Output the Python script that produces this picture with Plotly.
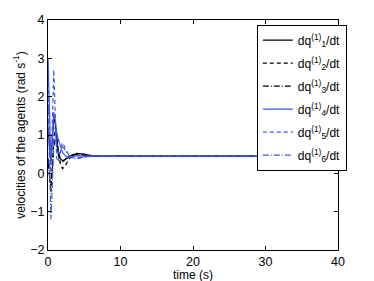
import plotly.graph_objects as go

time_s = [0, 0.2, 0.4, 0.6, 0.8, 1.0, 1.2, 1.4, 1.7, 2.0, 2.4, 2.8, 3.3, 4, 5, 6, 7, 8, 10, 12, 15, 20, 30, 40]

dq1 = [1.2, 0.6, 0.3, 0.9, 1.45, 1.3, 0.9, 0.6, 0.38, 0.33, 0.36, 0.42, 0.48, 0.52, 0.5, 0.46, 0.44, 0.45, 0.46, 0.45, 0.45, 0.45, 0.45, 0.45]
dq2 = [0.4, -0.2, -0.5, 0.2, 0.9, 1.2, 1.0, 0.6, 0.25, 0.12, 0.2, 0.35, 0.45, 0.5, 0.47, 0.45, 0.44, 0.45, 0.45, 0.45, 0.45, 0.45, 0.45, 0.45]
dq3 = [0.3, 0.0, -0.35, 0.1, 0.7, 0.9, 0.75, 0.5, 0.3, 0.3, 0.38, 0.44, 0.47, 0.48, 0.46, 0.45, 0.45, 0.45, 0.45, 0.45, 0.45, 0.45, 0.45, 0.45]
dq4 = [3.0, 1.2, 0.3, 0.9, 1.6, 1.4, 1.05, 0.9, 0.7, 0.55, 0.45, 0.42, 0.44, 0.46, 0.45, 0.45, 0.45, 0.45, 0.45, 0.45, 0.45, 0.45, 0.45, 0.45]
dq5 = [2.9, 0.5, 0.0, 1.8, 2.7, 1.5, 0.4, 0.3, 0.6, 0.8, 0.65, 0.5, 0.42, 0.4, 0.43, 0.45, 0.46, 0.45, 0.45, 0.45, 0.45, 0.45, 0.45, 0.45]
dq6 = [2.0, 0.0, -1.2, -0.3, 1.0, 1.1, 0.8, 0.5, 0.55, 0.7, 0.6, 0.48, 0.4, 0.38, 0.42, 0.45, 0.46, 0.45, 0.45, 0.45, 0.45, 0.45, 0.45, 0.45]

labels = ["dq<sup>(1)</sup><sub>%d</sub>/dt" % i for i in range(1, 7)]
series = [dq1, dq2, dq3, dq4, dq5, dq6]

BLUE = "#3a55f0"
styles = [("black", "solid"), ("black", "4px,3px"), ("black", "6px,2px,1px,2px"),
          (BLUE, "solid"), (BLUE, "4px,3px"), (BLUE, "6px,2px,1px,2px")]

fig = go.Figure()
for i, (lab, ys, (c, d)) in enumerate(zip(labels, series, styles)):
    fig.add_trace(go.Scatter(x=time_s, y=ys, mode="lines", name=lab, legendgroup="g%d" % i,
                             line=dict(color=c, dash=d, width=1.2)))

axis_common = dict(showline=True, linecolor="black", linewidth=1, mirror="ticks",
                   ticks="inside", ticklen=4, tickcolor="black", showgrid=False,
                   zeroline=False, tickfont=dict(size=12.5, color="black"), automargin=False)

fig.update_layout(
    width=374, height=281,
    margin=dict(l=48, r=36, t=20, b=31),
    paper_bgcolor="white", plot_bgcolor="white",
    font=dict(family="Liberation Sans, Arial, sans-serif", size=12, color="black"),
    xaxis=dict(range=[0, 40], tickvals=[0, 10, 20, 30, 40], **axis_common),
    yaxis=dict(range=[-2, 4], tickvals=[-2, -1, 0, 1, 2, 3, 4],
               title=dict(text="velocities of the agents (rad s<sup>-1</sup>)", font=dict(size=12), standoff=2),
               **axis_common),
    legend=dict(x=0.72, y=0.98, xanchor="left", yanchor="top",
                bgcolor="white", bordercolor="black", borderwidth=1,
                font=dict(size=12), tracegroupgap=4, itemwidth=30),
    showlegend=True,
    annotations=[dict(text="time (s)", xref="paper", yref="paper", x=0.5, y=-0.108,
                      xanchor="center", yanchor="middle", showarrow=False, font=dict(size=12))],
)

fig.write_html("out.html", config={"displayModeBar": False},
               post_script="document.body.style.margin='0px';document.body.style.padding='0px';")
